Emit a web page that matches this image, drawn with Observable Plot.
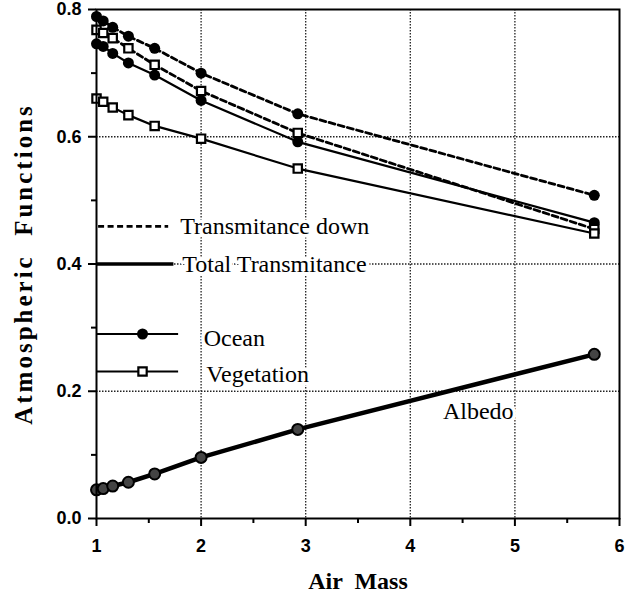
<!DOCTYPE html>
<html><head><meta charset="utf-8">
<script src="https://cdn.jsdelivr.net/npm/d3@7"></script>
<script src="https://cdn.jsdelivr.net/npm/@observablehq/plot@0.6"></script>
<style>html,body{margin:0;padding:0;background:#fff} #chart svg{display:block}</style>
</head><body><div id="chart"></div>
<script>
// Air mass (1/cos of zenith angle 0..80°)
const airMass = [1, 1.064, 1.155, 1.305, 1.556, 2.0, 2.924, 5.759];
const oceanDown = [0.789, 0.782, 0.772, 0.758, 0.739, 0.700, 0.636, 0.508];
const vegDown = [0.768, 0.763, 0.755, 0.739, 0.713, 0.672, 0.606, 0.455];
const oceanTotal = [0.746, 0.742, 0.731, 0.716, 0.697, 0.657, 0.592, 0.465];
const vegTotal = [0.660, 0.655, 0.646, 0.634, 0.617, 0.597, 0.550, 0.448];
const albedo = [0.045, 0.047, 0.051, 0.057, 0.070, 0.096, 0.140, 0.258];

const xTicks = [1, 2, 3, 4, 5, 6];
const xMinorTicks = [1.5, 2.5, 3.5, 4.5, 5.5];
const yTicks = [0, 0.2, 0.4, 0.6, 0.8];
const yMinorTicks = [0.1, 0.3, 0.5, 0.7];
const gridXValues = [2, 3, 4, 5];
const gridYValues = [0.6, 0.4, 0.2];

const series = [
  {key: "oceanDown", surface: "Ocean", kind: "down", values: oceanDown},
  {key: "vegDown", surface: "Vegetation", kind: "down", values: vegDown},
  {key: "oceanTotal", surface: "Ocean", kind: "total", values: oceanTotal},
  {key: "vegTotal", surface: "Vegetation", kind: "total", values: vegTotal}
];
const rows = series.flatMap(s => s.values.map((v, i) => ({key: s.key, surface: s.surface, kind: s.kind, x: airMass[i], y: v})));
const albedoRows = albedo.map((v, i) => ({x: airMass[i], y: v}));

const serif = "'Liberation Serif', 'Times New Roman', serif";
const sans = "'Liberation Sans', Arial, sans-serif";
const grid = {stroke: "#222", strokeWidth: 1.3, strokeDasharray: "1.5,1.5"};
const halo = {stroke: "white", strokeWidth: 7, fill: "black", paintOrder: "stroke", fontFamily: serif, fontSize: 24, textAnchor: "start"};

const chart = Plot.plot({
  width: 628, height: 597,
  marginLeft: 96, marginRight: 9, marginTop: 9, marginBottom: 79,
  x: {domain: [1, 6]},
  y: {domain: [0, 0.8]},
  style: {background: "white", color: "black", fontFamily: sans},
  marks: [
    Plot.ruleX(gridXValues, grid),
    Plot.ruleY(gridYValues, grid),
    Plot.line(rows.filter(d => d.kind === "down"), {x: "x", y: "y", z: "key", stroke: "black", strokeWidth: 2.8, strokeDasharray: "6,3.5"}),
    Plot.line(rows.filter(d => d.kind === "total"), {x: "x", y: "y", z: "key", stroke: "black", strokeWidth: 2.2}),
    Plot.line(albedoRows, {x: "x", y: "y", stroke: "black", strokeWidth: 4.5}),
    Plot.dot(rows.filter(d => d.surface === "Ocean"), {x: "x", y: "y", r: 5.5, fill: "black"}),
    Plot.dot(rows.filter(d => d.surface === "Vegetation"), {x: "x", y: "y", symbol: "square", r: 4.7, fill: "white", stroke: "black", strokeWidth: 2.2}),
    Plot.dot(albedoRows, {x: "x", y: "y", r: 5.5, fill: "#444", stroke: "black", strokeWidth: 2}),
    // legend
    Plot.text([{x: 1.80, y: 0.459, t: "Transmitance down"}, {x: 1.82, y: 0.40, t: "Total Transmitance"},
               {x: 2.025, y: 0.283, t: "Ocean"}, {x: 2.05, y: 0.227, t: "Vegetation"}],
      {x: "x", y: "y", text: "t", ...halo}),
    Plot.text([{x: 4.65, y: 0.169, t: "Albedo"}], {x: "x", y: "y", text: "t", ...halo, textAnchor: "middle"}),
    Plot.ruleY([{y: 0.459, x1: 1.02, x2: 1.69}], {y: "y", x1: "x1", x2: "x2", stroke: "black", strokeWidth: 2.8, strokeDasharray: "6,3.5"}),
    Plot.ruleY([{y: 0.40, x1: 1.0, x2: 1.74}], {y: "y", x1: "x1", x2: "x2", stroke: "black", strokeWidth: 3.5}),
    Plot.ruleY([{y: 0.29, x1: 1.0, x2: 1.785}, {y: 0.231, x1: 1.0, x2: 1.785}], {y: "y", x1: "x1", x2: "x2", stroke: "black", strokeWidth: 2}),
    Plot.dot([{x: 1.44, y: 0.29}], {x: "x", y: "y", r: 5.5, fill: "black"}),
    Plot.dot([{x: 1.44, y: 0.231}], {x: "x", y: "y", symbol: "square", r: 4.7, fill: "white", stroke: "black", strokeWidth: 2.2}),
    // frame and axes
    Plot.frame({stroke: "black", strokeWidth: 2}),
    Plot.axisX(xTicks, {tickSize: 8, tickPadding: 13, fontSize: 18, fontWeight: "bold", label: null, strokeWidth: 2}),
    Plot.axisX(xMinorTicks, {tickSize: 5, text: null, label: null, strokeWidth: 2}),
    Plot.axisY(yTicks, {tickSize: 8, tickPadding: 7, fontSize: 18, fontWeight: "bold", tickFormat: ".1f", label: null, strokeWidth: 2}),
    Plot.axisY(yMinorTicks, {tickSize: 5, text: null, label: null, strokeWidth: 2}),
    Plot.text(["Air  Mass"], {frameAnchor: "bottom", dy: 70, fontSize: 24, fontWeight: "bold", fontFamily: serif, textAnchor: "middle"}),
    Plot.text(["Atmospheric  Functions"], {frameAnchor: "left", dx: -73, rotate: -90, textAnchor: "middle", fontSize: 25, fontWeight: "bold", fontFamily: serif, className: "ylabel"})
  ]
});
d3.select(chart).selectAll(".ylabel text").style("letter-spacing", "3px");
document.getElementById("chart").append(chart);
</script>
</body></html>
